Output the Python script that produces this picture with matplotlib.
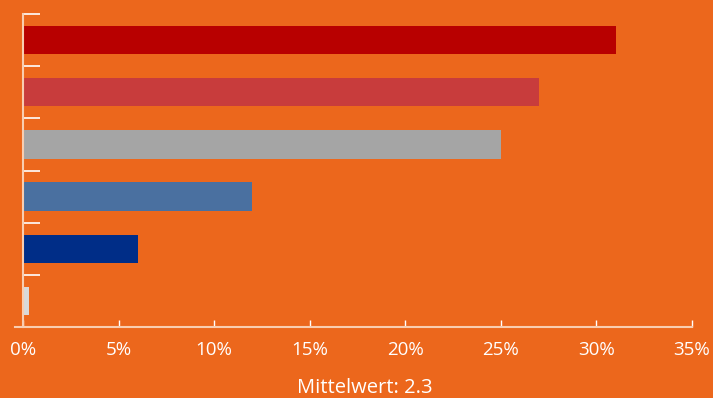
import matplotlib.pyplot as plt
import numpy as np

# share of answers per rating, top to bottom
ratings = ["1", "2", "3", "4", "5", "k.A."]
shares = [31.0, 27.0, 25.0, 12.0, 6.0, 0.3]
bar_colors = ["#B80000", "#C83C3C", "#A5A5A5", "#4A70A0", "#002D87", "#D9D9D9"]
x_ticks = [0, 5, 10, 15, 20, 25, 30, 35]
mean_label = "Mittelwert: 2.3"

bg = "#EC671C"
axis_col = "#F9CDB0"

plt.rcParams['font.family'] = ['Open Sans', 'DejaVu Sans']

fig = plt.figure(figsize=(7.13, 3.98), dpi=100, facecolor=bg)
ax = fig.add_axes([23 / 713, 1 - 327 / 398, (692 - 23) / 713, (327 - 14) / 398])
ax.set_facecolor(bg)

pos = np.arange(len(ratings))
ax.barh(pos, shares, height=0.54, color=bar_colors)
ax.set_ylim(len(ratings) - 0.5, -0.5)
ax.set_xlim(0, 35)

# category separators on the y axis
ax.set_yticks([])
ax.set_yticks(np.arange(len(ratings) + 1) - 0.5, minor=True)
ax.tick_params(axis="y", which="minor", direction="in", length=12, width=1.2,
               color="white", labelleft=False)

ax.set_xticks(x_ticks)
ax.set_xticklabels([f"{t}%" for t in x_ticks], fontweight="medium")
ax.tick_params(axis="x", direction="in", length=5, width=1, color="white",
               labelcolor="white", labelsize=13.5, pad=10)

for side in ["top", "right"]:
    ax.spines[side].set_visible(False)
ax.spines["left"].set_color(axis_col)
ax.spines["left"].set_linewidth(1.5)
ax.spines["bottom"].set_color(axis_col)
ax.spines["bottom"].set_linewidth(1.5)
ax.spines["bottom"].set_bounds(-0.4, 35)

fig.text(365 / 713, 1 - 388 / 398, mean_label, ha="center", va="center",
         color="white", fontsize=14.5, fontweight="medium")

fig.savefig("out.png", dpi=100, facecolor=bg)
